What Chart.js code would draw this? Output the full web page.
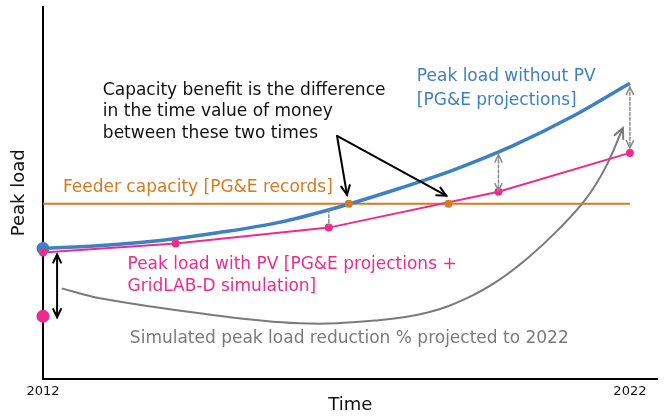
<!DOCTYPE html>
<html>
<head>
<meta charset="utf-8">
<script src="https://cdn.jsdelivr.net/npm/chart.js@4.4.1/dist/chart.umd.min.js"></script>
<style>
  html, body { margin: 0; padding: 0; background: #fff; }
  #wrap { width: 664px; height: 418px; }
</style>
</head>
<body>
<div id="wrap"><canvas id="chart"></canvas></div>
<script>
// values (arbitrary load units)
var years = [2012, 2013, 2014, 2015, 2016, 2017, 2018, 2019, 2020, 2021, 2022];
var loadNoPv = [131, 134, 139, 147, 157, 172, 190, 210, 234, 263, 297];
var pvYears = [2012, 2014.26, 2016.87, 2019.76, 2022];
var loadPv = [127, 136, 152, 188, 227];
var capacity = 176;
var crossYears = [2017.21, 2018.91];
var reducedStart = 63;
var reductionYears = [2012.32, 2012.97, 2014.67, 2016.36, 2017.72, 2018.57, 2019.25, 2019.76, 2020.27, 2020.78, 2021.24, 2021.58, 2021.88];
var reductionCurve = [91, 81, 66, 56, 59, 67, 82, 99, 122, 150, 180, 212, 252];
var tickYears = [2012, 2022];

var BLUE = '#3f80c2';
var PINK = '#ee2b8b';
var ORANGE = '#d47a22';
var GREY = '#7a7a7a';
var FONT = '"DejaVu Sans", sans-serif';

function pts(xs, ys) {
    return xs.map(function (x, i) { return { x: x, y: ys[i] }; });
}

// text and arrows, placed in data units
var notes = [
    { text: 'Capacity benefit is the difference', x: 2013.02, y: 290, color: '#111' },
    { text: 'in the time value of money', x: 2013.02, y: 268, color: '#111' },
    { text: 'between these two times', x: 2013.02, y: 246, color: '#111' },
    { text: 'Peak load without PV', x: 2018.37, y: 304, color: BLUE },
    { text: '[PG&E projections]', x: 2018.37, y: 280, color: BLUE },
    { text: 'Feeder capacity [PG&E records]', x: 2012.34, y: 192, color: ORANGE },
    { text: 'Peak load with PV [PG&E projections +', x: 2013.44, y: 115, color: PINK },
    { text: 'GridLAB-D simulation]', x: 2013.44, y: 93, color: PINK },
    { text: 'Simulated peak load reduction % projected to 2022', x: 2013.48, y: 41, color: GREY }
];
var pointers = [
    { x1: 2017.01, y1: 244, x2: 2017.18, y2: 185 },
    { x1: 2017.01, y1: 244, x2: 2018.87, y2: 184 }
];
var gaps = [
    { x: 2016.87, top: 170, bottom: 154, heads: false },
    { x: 2019.76, top: 225, bottom: 189, heads: true },
    { x: 2022, top: 293, bottom: 232, heads: true }
];
var drop = { x: 2012.24, top: 125, bottom: 62 };

function head(ctx, x, y, ang, size) {
    ctx.beginPath();
    ctx.moveTo(x - size * Math.cos(ang - 0.45), y - size * Math.sin(ang - 0.45));
    ctx.lineTo(x, y);
    ctx.lineTo(x - size * Math.cos(ang + 0.45), y - size * Math.sin(ang + 0.45));
    ctx.stroke();
}

var annotate = {
    id: 'annotate',
    afterDatasetsDraw: function (chart) {
        var ctx = chart.ctx, sx = chart.scales.x, sy = chart.scales.y;
        ctx.save();
        ctx.lineCap = 'round';

        // dashed gaps between the two load curves
        ctx.strokeStyle = '#8a8a8a';
        ctx.lineWidth = 1.5;
        gaps.forEach(function (g) {
            var x = sx.getPixelForValue(g.x), t = sy.getPixelForValue(g.top), b = sy.getPixelForValue(g.bottom);
            ctx.setLineDash([3, 2]);
            ctx.beginPath(); ctx.moveTo(x, t); ctx.lineTo(x, b); ctx.stroke();
            ctx.setLineDash([]);
            if (g.heads) {
                head(ctx, x, t, -Math.PI / 2, 8);
                head(ctx, x, b, Math.PI / 2, 8);
            }
        });

        // solid black double arrow at 2012
        ctx.strokeStyle = '#000';
        ctx.lineWidth = 2;
        var dx = sx.getPixelForValue(drop.x), dt = sy.getPixelForValue(drop.top), db = sy.getPixelForValue(drop.bottom);
        ctx.beginPath(); ctx.moveTo(dx, dt); ctx.lineTo(dx, db); ctx.stroke();
        head(ctx, dx, dt, -Math.PI / 2, 9);
        head(ctx, dx, db, Math.PI / 2, 9);

        // pointers to the two crossing times
        pointers.forEach(function (p) {
            var x1 = sx.getPixelForValue(p.x1), y1 = sy.getPixelForValue(p.y1);
            var x2 = sx.getPixelForValue(p.x2), y2 = sy.getPixelForValue(p.y2);
            ctx.beginPath(); ctx.moveTo(x1, y1); ctx.lineTo(x2, y2); ctx.stroke();
            head(ctx, x2, y2, Math.atan2(y2 - y1, x2 - x1), 10);
        });

        // arrow head on the reduction curve
        var n = reductionYears.length;
        var ax = sx.getPixelForValue(reductionYears[n - 1]), ay = sy.getPixelForValue(reductionCurve[n - 1]);
        var bx = sx.getPixelForValue(reductionYears[n - 2]), by = sy.getPixelForValue(reductionCurve[n - 2]);
        ctx.strokeStyle = GREY;
        ctx.lineWidth = 2;
        head(ctx, ax, ay, Math.atan2(ay - by, ax - bx), 11);

        ctx.font = '17px ' + FONT;
        ctx.textBaseline = 'middle';
        ctx.textAlign = 'left';
        notes.forEach(function (n) {
            ctx.fillStyle = n.color;
            ctx.fillText(n.text, sx.getPixelForValue(n.x), sy.getPixelForValue(n.y));
        });
        ctx.restore();
    }
};

new Chart(document.getElementById('chart'), {
    type: 'line',
    data: {
        datasets: [
            {
                label: 'Crossings',
                data: crossYears.map(function (x) { return { x: x, y: capacity }; }),
                showLine: false,
                pointRadius: 4,
                pointBackgroundColor: ORANGE,
                pointBorderWidth: 0
            },
            {
                label: 'Peak load with PV',
                data: pts(pvYears, loadPv),
                borderColor: PINK,
                borderWidth: 2,
                tension: 0,
                clip: false,
                pointRadius: 4,
                pointBackgroundColor: PINK,
                pointBorderWidth: 0
            },
            {
                label: 'Reduced start',
                data: [{ x: 2012, y: reducedStart }],
                showLine: false,
                clip: false,
                pointRadius: 6.5,
                pointBackgroundColor: PINK,
                pointBorderWidth: 0
            },
            {
                label: 'Peak load without PV',
                data: pts(years, loadNoPv),
                borderColor: BLUE,
                borderWidth: 3.5,
                clip: false,
                cubicInterpolationMode: 'monotone',
                pointRadius: years.map(function (y, i) { return i === 0 ? 6.5 : 0; }),
                pointBackgroundColor: BLUE,
                pointBorderWidth: 0
            },
            {
                label: 'Feeder capacity',
                data: [{ x: tickYears[0], y: capacity }, { x: tickYears[1], y: capacity }],
                borderColor: ORANGE,
                borderWidth: 2,
                pointRadius: 0
            },
            {
                label: 'Reduction',
                data: pts(reductionYears, reductionCurve),
                borderColor: GREY,
                borderWidth: 2,
                tension: 0.4,
                pointRadius: 0
            }
        ]
    },
    options: {
        responsive: true,
        maintainAspectRatio: false,
        animation: false,
        layout: { padding: { top: 5, right: 4, left: 0, bottom: 0 } },
        plugins: { legend: { display: false }, tooltip: { enabled: false } },
        scales: {
            x: {
                type: 'linear',
                min: 2012,
                max: 2022.47,
                afterFit: function (s) { s.height = 39; },
                afterBuildTicks: function (s) { s.ticks = tickYears.map(function (v) { return { value: v }; }); },
                ticks: {
                    color: '#111',
                    font: { family: FONT, size: 13 },
                    padding: 5,
                    maxRotation: 0,
                    callback: function (v) { return String(v); }
                },
                grid: { display: false, drawTicks: false },
                border: { display: true, color: '#000', width: 2 },
                title: { display: true, text: 'Time', color: '#111', font: { family: FONT, size: 18 }, padding: { top: 0, bottom: 2 } }
            },
            y: {
                min: 0,
                max: 374,
                afterFit: function (s) { s.width = 43; },
                ticks: { display: false },
                grid: { display: false, drawTicks: false },
                border: { display: true, color: '#000', width: 2 },
                title: { display: true, text: 'Peak load', color: '#111', font: { family: FONT, size: 18 }, padding: { top: 9, bottom: 0 } }
            }
        }
    },
    plugins: [annotate]
});
</script>
</body>
</html>
